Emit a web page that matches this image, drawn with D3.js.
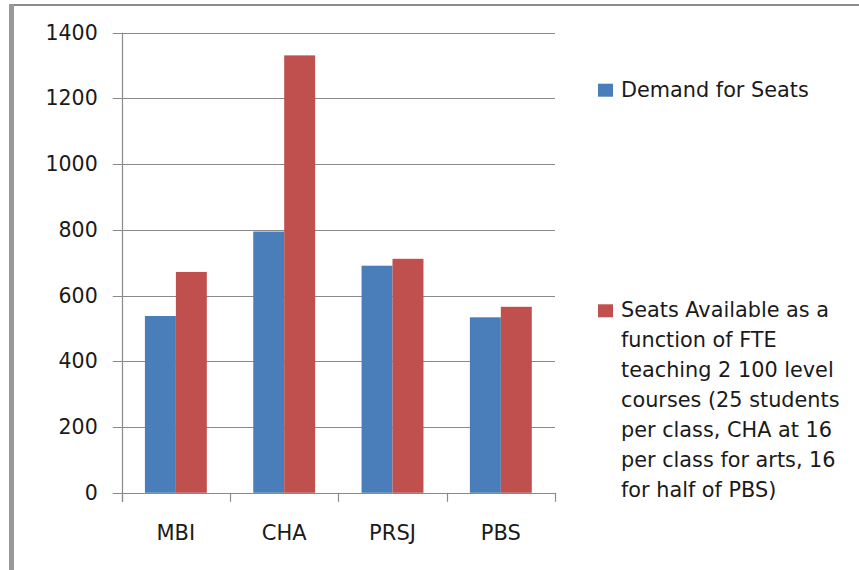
<!DOCTYPE html>
<html>
<head>
<meta charset="utf-8">
<script src="https://cdn.jsdelivr.net/npm/d3@7"></script>
<style>
    body { margin: 0; background: #fff; }
    text { font-family: "DejaVu Sans", sans-serif; fill: #1a1a1a; }
</style>
</head>
<body>
<div id="chart"></div>
<script>
var categories = ["MBI", "CHA", "PRSJ", "PBS"];
var demand = [538, 795, 691, 534];
var available = [672, 1331, 712, 566];
var legendLines = [
    ["Demand for Seats"],
    ["Seats Available as a", "function of FTE", "teaching 2 100 level", "courses (25 students", "per class, CHA at 16", "per class for arts, 16", "for half of PBS)"]
];
var yTicks = [0, 200, 400, 600, 800, 1000, 1200, 1400];
var colors = ["#4a7ebb", "#c0504d"];

function main(){
    var canvasWidth = 859;
    var canvasHeight = 570;

    var svg = d3.select("#chart").append("svg")
        .attr("width", canvasWidth)
        .attr("height", canvasHeight)

    // frame of the chart area (top + left edge)
    svg.append("rect")
        .attr("x", 9).attr("y", 4)
        .attr("width", canvasWidth - 9).attr("height", 2)
        .attr("fill", "#8c8c8c")
    svg.append("rect")
        .attr("x", 9).attr("y", 4)
        .attr("width", 5).attr("height", canvasHeight - 4)
        .attr("fill", "#999999")

    var left = 121.7, right = 555, top = 32.7, bottom = 492.8;

    var xScale = d3.scaleBand().domain(categories).range([left, right]).padding(0);
    var bw = xScale.bandwidth();
    var gap = bw * 1.5 / 3.5; // excel gap width 150%
    var x1 = d3.scaleBand().domain([0, 1]).range([gap / 2, bw - gap / 2]).padding(0);
    var yScale = d3.scaleLinear().domain([0, 1400]).range([bottom, top]);

    // gridlines
    svg.append("g").selectAll("line")
        .data(yTicks)
        .enter().append("line")
        .attr("x1", left - 9)
        .attr("x2", right)
        .attr("y1", function(d) { return Math.round(yScale(d)) + 0.5; })
        .attr("y2", function(d) { return Math.round(yScale(d)) + 0.5; })
        .attr("stroke", "#8a8a8a")
        .attr("stroke-width", 1.2)

    // y axis line
    svg.append("line")
        .attr("x1", Math.round(left) + 0.5).attr("x2", Math.round(left) + 0.5)
        .attr("y1", top).attr("y2", bottom + 9)
        .attr("stroke", "#8a8a8a")
        .attr("stroke-width", 1.2)

    // y labels
    svg.append("g")
        .attr("transform", "translate(" + left + ",0)")
        .call(d3.axisLeft(yScale).tickValues(yTicks).tickFormat(d3.format("d")).tickSize(0).tickPadding(24))
        .call(function(g) { g.select(".domain").remove(); })
        .selectAll("text")
        .attr("font-size", "20.5px")
        .attr("font-family", "DejaVu Sans")
        .attr("fill", "#1a1a1a")

    // x boundary ticks
    var bounds = categories.map(function(c) { return xScale(c); }).concat([right]);
    svg.append("g").selectAll("line")
        .data(bounds)
        .enter().append("line")
        .attr("x1", function(d) { return Math.round(d) + 0.5; })
        .attr("x2", function(d) { return Math.round(d) + 0.5; })
        .attr("y1", bottom)
        .attr("y2", bottom + 9)
        .attr("stroke", "#8a8a8a")
        .attr("stroke-width", 1.2)

    // x labels
    svg.append("g")
        .attr("transform", "translate(0," + bottom + ")")
        .call(d3.axisBottom(xScale).tickSize(0).tickPadding(32))
        .call(function(g) { g.select(".domain").remove(); })
        .selectAll("text")
        .attr("font-size", "21px")
        .attr("font-family", "DejaVu Sans")
        .attr("fill", "#1a1a1a")

    // bars
    var series = [demand, available];
    series.forEach(function(values, si) {
        svg.append("g").selectAll("rect")
            .data(values)
            .enter().append("rect")
            .attr("x", function(d, i) { return xScale(categories[i]) + x1(si); })
            .attr("y", function(d) { return yScale(d); })
            .attr("width", x1.bandwidth())
            .attr("height", function(d) { return bottom - yScale(d); })
            .attr("fill", colors[si])
    });

    // legend
    var legendTop = [96.7, 317.3];
    legendLines.forEach(function(lines, si) {
        var g = svg.append("g");
        g.append("rect")
            .attr("x", 598).attr("y", legendTop[si] - 13)
            .attr("width", 15).attr("height", 13)
            .attr("fill", colors[si])
        g.selectAll("text")
            .data(lines)
            .enter().append("text")
            .attr("x", 621)
            .attr("y", function(d, i) { return legendTop[si] + i * 29.9; })
            .attr("font-size", "20.8px")
            .text(function(d) { return d; })
    });
}

main()
</script>
</body>
</html>
